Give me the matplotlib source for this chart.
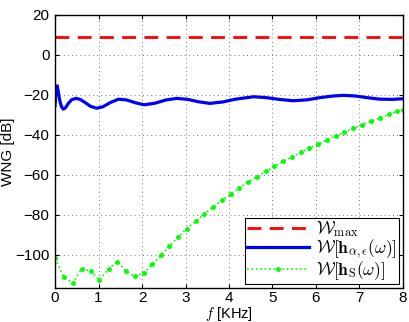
import numpy as np
import matplotlib
matplotlib.use("Agg")
from matplotlib import pyplot as plt
from matplotlib.ticker import MultipleLocator

# red: maximum WNG
W_max = 9.0

# blue: WNG of h_{alpha,eps}
f_blue = [0.0, 0.02, 0.05, 0.08, 0.11, 0.15, 0.19, 0.24, 0.3, 0.38, 0.48, 0.58,
          0.7, 0.82, 0.96, 1.1, 1.28, 1.46, 1.65, 1.85, 2.05, 2.3, 2.55, 2.8,
          3.05, 3.3, 3.56, 3.85, 4.15, 4.56, 4.85, 5.15, 5.48, 5.8, 6.1, 6.4,
          6.63, 6.9, 7.2, 7.47, 7.75, 8.0]
w_blue = [-25.5, -19.0, -15.5, -19.0, -23.0, -26.0, -27.2, -26.5, -24.5, -22.5, -21.8, -22.3,
          -24.0, -25.8, -26.7, -26.0, -23.8, -22.2, -22.6, -24.0, -25.0, -24.2, -22.6, -21.8,
          -22.3, -23.5, -24.3, -23.6, -22.2, -21.0, -21.4, -22.3, -23.0, -22.5, -21.4, -20.6,
          -20.3, -20.6, -21.5, -22.2, -22.3, -22.0]

# green: WNG of h_S (markers every ~0.2 kHz)
f_green = [0.0, 0.2, 0.41, 0.61, 0.82, 1.02, 1.23, 1.43, 1.63, 1.84, 2.04, 2.24,
           2.44, 2.63, 2.83, 3.03, 3.24, 3.43, 3.64, 3.85, 4.04, 4.24, 4.44, 4.64,
           4.85, 5.04, 5.25, 5.45, 5.66, 5.85, 6.05, 6.25, 6.45, 6.65, 6.86, 7.06,
           7.26, 7.47, 7.67, 7.87, 8.0]
w_green = [-101.7, -111.0, -114.0, -107.0, -108.0, -112.5, -107.0, -103.3, -108.0, -110.7, -109.0, -104.7,
           -100.0, -95.6, -91.0, -86.8, -83.0, -79.7, -75.8, -72.5, -69.7, -66.5, -63.5, -61.0,
           -58.3, -55.8, -53.3, -51.0, -48.8, -46.5, -44.7, -42.5, -40.7, -38.7, -36.8, -35.0,
           -33.3, -31.5, -29.8, -28.3, -27.5]

plt.rcParams['mathtext.fontset'] = 'cm'
plt.rcParams['axes.unicode_minus'] = True
plt.rcParams['font.family'] = ['Liberation Sans', 'DejaVu Sans']

fig = plt.figure(figsize=(4.09, 3.22), dpi=100)
ax = fig.add_axes([0.1345, 0.1056, 0.8508, 0.8488])

ax.axhline(W_max, color='r', linestyle=(0, (5, 3)), linewidth=2,
           label=r'$\mathcal{W}_{\max}$')
ax.plot(f_blue, w_blue, color='b', linewidth=2.3,
        label=r'$\mathcal{W}[\mathbf{h}_{\alpha,\epsilon}(\omega)]$')
ax.plot(f_green, w_green, color=(0, 1, 0), linestyle=':', linewidth=1.2,
        marker='.', markersize=5,
        label=r'$\mathcal{W}[\mathbf{h}_{\mathrm{S}}(\omega)]$')

ax.set_xlim(0, 8)
ax.set_ylim(-116.5, 20)
ax.xaxis.set_major_locator(MultipleLocator(1))
ax.yaxis.set_major_locator(MultipleLocator(20))
ax.tick_params(direction='in', top=True, right=True, length=3, labelsize=11, pad=4)
ax.tick_params(axis='x', pad=2)
ax.grid(color='k', linestyle=(0, (1, 4)), linewidth=0.6, alpha=0.7)
for s in ax.spines.values():
    s.set_linewidth(1.0)

ax.set_xlabel(r'$f$ [KHz]', fontsize=10.5)
ax.xaxis.set_label_coords(0.5, -0.062)
ax.set_ylabel('WNG [dB]', fontsize=11)
ax.yaxis.set_label_coords(-0.115, 0.5)

leg = ax.legend(loc='lower right', fancybox=False, edgecolor='k', framealpha=1,
                fontsize=12.5, handlelength=3.6, borderpad=0.1, labelspacing=-0.1,
                handletextpad=0.4, borderaxespad=0.25, numpoints=1)
leg.get_frame().set_linewidth(0.8)

fig.savefig('out.png', dpi=100)
